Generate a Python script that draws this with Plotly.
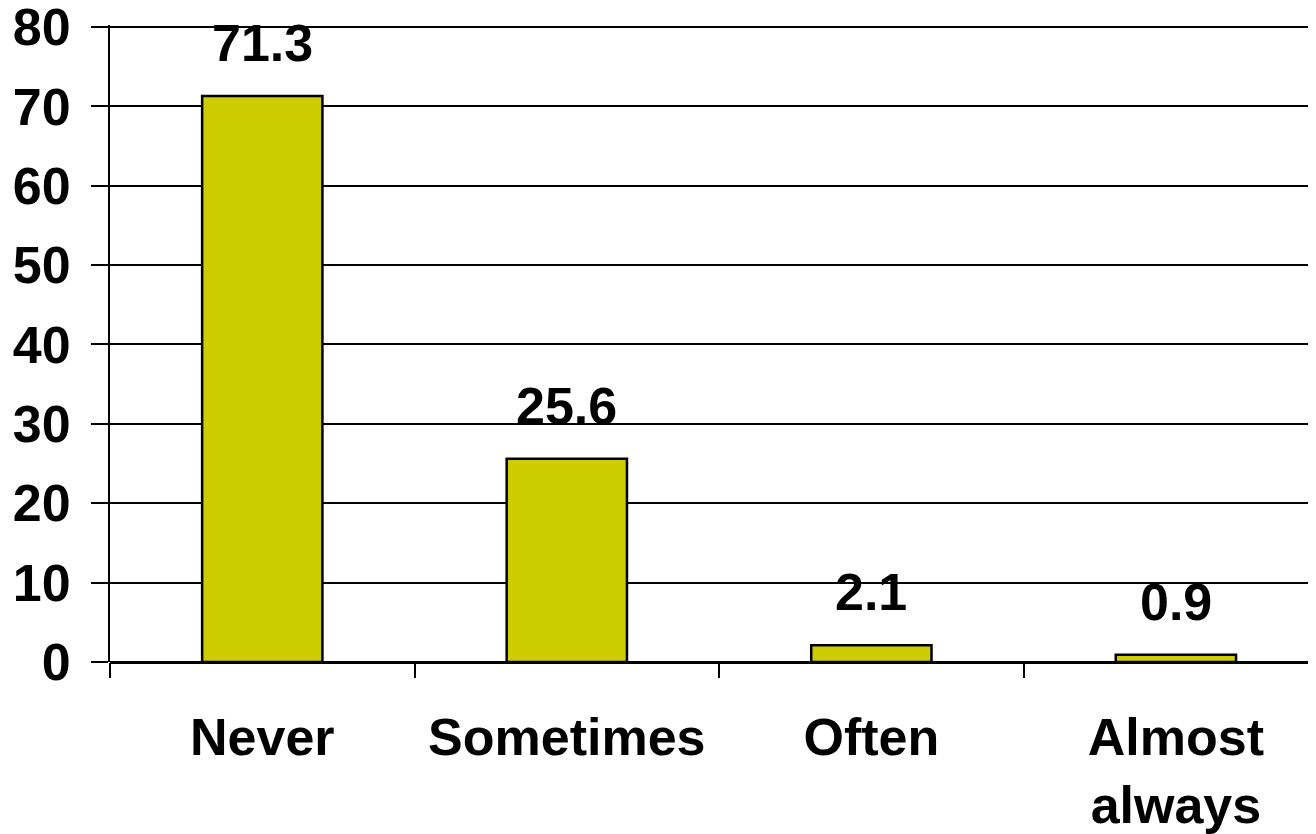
import plotly.graph_objects as go

categories = ["Never", "Sometimes", "Often", "Almost<br>always"]
values = [71.3, 25.6, 2.1, 0.9]
value_labels = ["71.3", "25.6", "2.1", "0.9"]
y_ticks = [0, 10, 20, 30, 40, 50, 60, 70, 80]

FONT = "Liberation Sans, Arial, sans-serif"

fig = go.Figure()
fig.add_trace(go.Bar(
    x=categories, y=values,
    width=0.395,
    marker=dict(color="#CCCC00", line=dict(color="black", width=2.5)),
    hoverinfo="skip",
))

for c, v, t in zip(categories, values, value_labels):
    fig.add_annotation(
        x=c, y=v, text=t, showarrow=False, yanchor="bottom", yshift=22,
        font=dict(family=FONT, size=52, color="black", weight="bold"),
    )

fig.update_layout(
    width=1308, height=826,
    margin=dict(l=102, r=0, t=17, b=172),
    plot_bgcolor="white", paper_bgcolor="white",
    showlegend=False,
    font=dict(family=FONT, size=52, color="black", weight="bold"),
)
fig.update_xaxes(
    type="category", range=[-0.5, 3.46], automargin=False,
    tickson="boundaries", ticks="outside", ticklen=15, tickwidth=2, tickcolor="black",
    showgrid=False, showline=False,
    tickfont=dict(family=FONT, size=52, color="black", weight="bold"),
    ticklabelstandoff=40, ticklabeloverflow="allow",
)
fig.update_yaxes(
    range=[0, 80.25], tickvals=y_ticks, automargin=False,
    ticks="outside", ticklen=17, tickwidth=2, tickcolor="black",
    showgrid=True, gridcolor="black", gridwidth=2,
    zeroline=True, zerolinecolor="black", zerolinewidth=3,
    showline=True, linecolor="black", linewidth=2,
    tickfont=dict(family=FONT, size=52, color="black", weight="bold"),
    ticklabelstandoff=10, ticklabeloverflow="allow",
)

fig.write_html("out.html")
